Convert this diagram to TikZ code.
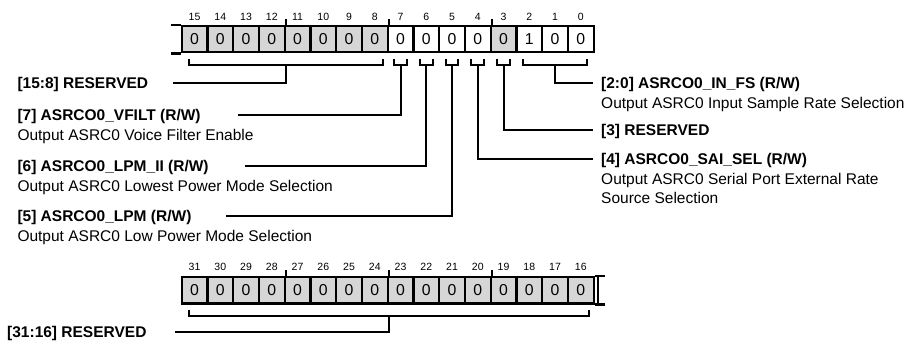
\documentclass[tikz,border=0pt]{standalone}
\usepackage{fontspec}
\setmainfont{Liberation Sans}
\usetikzlibrary{calc}
\begin{document}
\begin{tikzpicture}[x=1pt,y=-1pt,
  cell/.style={draw, line width=2.2pt, minimum width=25.75pt, minimum height=26.3pt, inner sep=0pt, font=\fontsize{15.8}{15.8}\selectfont},
  bitnum/.style={font=\fontsize{10.5}{10.5}\selectfont, inner sep=0pt, anchor=base},
  ln/.style={line width=2pt},
  bx/.style={line width=2.2pt},
  title/.style={font=\fontsize{15.5}{15.5}\selectfont\bfseries, inner sep=0pt, anchor=base west},
  desc/.style={font=\fontsize{15.5}{15.5}\selectfont, inner sep=0pt, anchor=base west},
]
\useasboundingbox (0,0) rectangle (914,343);

% ---------- top register (bits 15..0)
\foreach \k in {0,...,15}{
  \pgfmathtruncatemacro\b{15-\k}
  \pgfmathsetmacro\cx{181.7+(\k+0.5)*25.75}
  \ifnum\b=2 \def\v{1}\else\def\v{0}\fi
  \ifnum\b>7 \def\fc{black!16}\else\ifnum\b=3 \def\fc{black!16}\else\def\fc{white}\fi\fi
  \node[cell, fill=\fc] (t\b) at (\cx,39.2) {\v};
  \node[bitnum] (tn\b) at (\cx,20.7) {\b};
}
% ---------- bottom register (bits 31..16)
\foreach \k in {0,...,15}{
  \pgfmathtruncatemacro\b{31-\k}
  \pgfmathsetmacro\cx{181.7+(\k+0.5)*25.75}
  \node[cell, fill=black!16] (b\b) at (\cx,290.3) {0};
  \node[bitnum] (bn\b) at (\cx,270.7) {\b};
}

% byte ticks
\foreach \a in {12,8,4}{ \draw[bx] (t\a.north east) -- ++(0,-6); }
\foreach \a in {28,24,20}{ \draw[bx] (b\a.north east) -- ++(0,-6); }

% register continuation stubs
\draw[bx] (t15.north west) -- ++(-9.7,0);
\draw[bx] (t15.south west) -- ++(-9.7,0);
\draw[bx] (b16.north east) -- ++(10.3,0);
\draw[bx] (b16.south east) -- ++(10.3,0);
\draw[bx] ([xshift=3.3pt]b16.north east) -- ([xshift=3.3pt]b16.south east);

% ---------- stems
\coordinate (s158) at (t12.south east |- 0,65);
\coordinate (s7) at (t7.south |- 0,65);
\coordinate (s6) at (t6.south |- 0,65);
\coordinate (s5) at (t5.south |- 0,65);
\coordinate (s4) at (t4.south |- 0,65);
\coordinate (s3) at (t3.south |- 0,65);
\coordinate (s20) at (t1.south |- 0,65);
\coordinate (sb) at (b24.south east |- 0,316);

% brackets
\draw[ln] ($(s158)+(-97.3,-6.5)$) -- ++(0,6.5) -- ++(194.5,0) -- ++(0,-6.5);
\foreach \s in {s7,s6,s5,s4,s3}{
  \draw[ln] ($(\s)+(-6.4,-6.5)$) -- ++(0,6.5) -- ++(12.8,0) -- ++(0,-6.5);
}
\draw[ln] ($(s20)+(-32.2,-6.5)$) -- ++(0,6.5) -- ++(64.4,0) -- ++(0,-6.5);
\draw[ln] ($(sb)+(-200.2,-6.5)$) -- ++(0,6.5) -- ++(400,0) -- ++(0,-6.5);

% ---------- labels
\node[title] (n158) at (17.3,88.1) {[15:8] RESERVED};
\node[title] (n7) at (17.3,120.6) {[7] ASRCO0\_VFILT (R/W)};
\node[desc]  (d7) at (17.3,140.1) {Output ASRC0 Voice Filter Enable};
\node[title] (n6) at (17.3,171.6) {[6] ASRCO0\_LPM\_II (R/W)};
\node[desc]  (d6) at (17.3,191.1) {Output ASRC0 Lowest Power Mode Selection};
\node[title] (n5) at (17.3,221.6) {[5] ASRCO0\_LPM (R/W)};
\node[desc]  (d5) at (17.3,241.1) {Output ASRC0 Low Power Mode Selection};
\node[title] (n3116) at (7,337.6) {[31:16] RESERVED};

\node[title] (n20) at (601,88.9) {[2:0] ASRCO0\_IN\_FS (R/W)};
\node[desc]  (d20) at (601,108.4) {Output ASRC0 Input Sample Rate Selection};
\node[title] (n3) at (601,135.6) {[3] RESERVED};
\node[title] (n4) at (601,164.9) {[4] ASRCO0\_SAI\_SEL (R/W)};
\node[desc]  (d4a) at (601,184.4) {Output ASRC0 Serial Port External Rate};
\node[desc]  (d4b) at (601,203.9) {Source Selection};

% leader end points
\coordinate (e158) at (173,82.5);
\coordinate (e7) at (238,115);
\coordinate (e6) at (245,166);
\coordinate (e5) at (226,216);
\coordinate (e20) at (593,83.3);
\coordinate (e3) at (593,130);
\coordinate (e4) at (593,159.3);
\coordinate (eb) at (175,332);

% leaders
\draw[ln] (s158) |- (e158);
\draw[ln] (s7) |- (e7);
\draw[ln] (s6) |- (e6);
\draw[ln] (s5) |- (e5);
\draw[ln] (s20) |- (e20);
\draw[ln] (s3) |- (e3);
\draw[ln] (s4) |- (e4);
\draw[ln] (sb) |- (eb);
\end{tikzpicture}
\end{document}
